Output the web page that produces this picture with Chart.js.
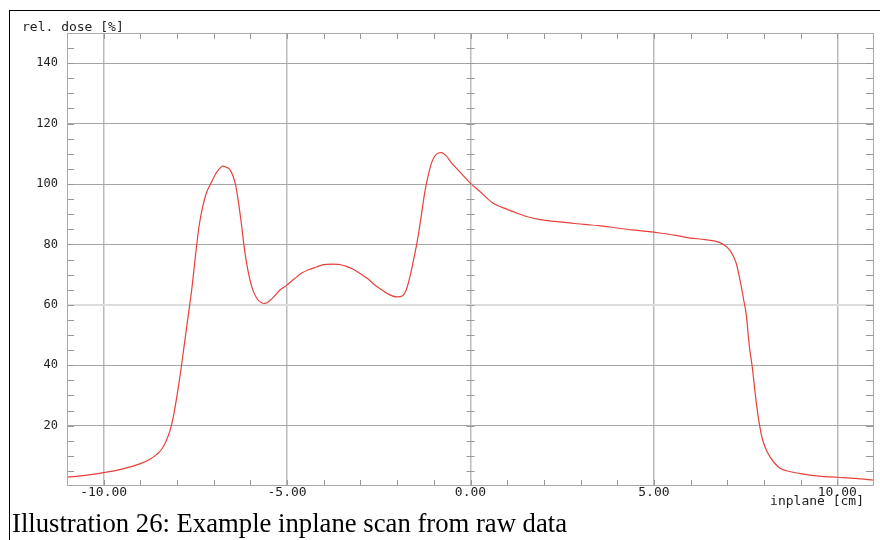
<!DOCTYPE html>
<html>
<head>
<meta charset="utf-8">
<script src="https://cdn.jsdelivr.net/npm/chart.js@4.4.1/dist/chart.umd.min.js"></script>
<style>
    html, body { margin: 0; padding: 0; background: #fff; }
    #page { position: relative; width: 880px; height: 540px; overflow: hidden; }
    #frame {
        position: absolute; left: 9px; top: 10px; width: 880px; height: 540px;
        border-left: 1.5px solid #000; border-top: 1.5px solid #000;
    }
    #chartBox { position: absolute; left: 0; top: 0; width: 880px; height: 540px; }
    #caption {
        position: absolute; left: 12px; top: 510px; margin: 0;
        font-family: "Liberation Serif", "Times New Roman", serif;
        font-size: 26.7px; line-height: 1; color: #000; white-space: nowrap;
    }
</style>
</head>
<body>
<div id="page">
    <div id="frame"></div>
    <div id="chartBox"><canvas id="scanChart"></canvas></div>
    <p id="caption">Illustration 26: Example inplane scan from raw data</p>
</div>
<script>
// position along the scan [cm]
const positions = [
    -11.0, -10.5, -10.0, -9.5, -9.0, -8.75, -8.56, -8.4, -8.3, -8.2, -8.1, -8.0, -7.9, -7.8,
    -7.7, -7.6, -7.5, -7.4, -7.3, -7.2, -7.07, -6.95, -6.85, -6.75, -6.65, -6.57, -6.48,
    -6.4, -6.32, -6.25, -6.16, -6.07, -5.95, -5.82, -5.7, -5.6, -5.5, -5.35, -5.2, -5.0,
    -4.8, -4.6, -4.4, -4.2, -4.0, -3.8, -3.6, -3.4, -3.2, -3.0, -2.8, -2.6, -2.4, -2.2,
    -2.0, -1.85, -1.75, -1.65, -1.55, -1.45, -1.35, -1.25, -1.15, -1.05, -0.93, -0.8,
    -0.66, -0.53, -0.4, -0.2, 0.0, 0.25, 0.6, 1.0, 1.35, 1.6, 1.9, 2.3, 2.7, 3.1, 3.5,
    3.9, 4.4, 4.8, 5.2, 5.6, 6.0, 6.4, 6.8, 7.0, 7.15, 7.25, 7.35, 7.45, 7.52, 7.6, 7.68,
    7.78, 7.87, 7.96, 8.1, 8.28, 8.45, 8.7, 9.0, 9.5, 10.0, 10.5, 11.0
];

// relative dose [%]
const doses = [
    2.9, 3.5, 4.4, 5.6, 7.4, 8.8, 10.4, 12.5, 14.8, 18.0, 23.0, 30.0, 38.0, 47.0,
    56.0, 65.0, 76.0, 86.0, 92.5, 97.0, 100.4, 103.3, 105.0, 105.9, 105.5, 104.9, 102.8,
    99.5, 93.5, 87.2, 78.2, 71.6, 65.5, 62.0, 60.7, 60.5, 61.1, 62.8, 64.8, 66.6,
    68.6, 70.5, 71.7, 72.5, 73.3, 73.5, 73.4, 72.8, 71.8, 70.3, 68.6, 66.5, 64.8, 63.3,
    62.6, 63.0, 65.0, 69.3, 75.0, 81.2, 88.8, 97.0, 103.0, 107.4, 109.9, 110.4,
    109.3, 107.2, 105.4, 102.8, 100.2, 97.6, 93.8, 91.6, 90.0, 89.0, 88.2, 87.6, 87.1, 86.6, 86.2,
    85.6, 84.8, 84.3, 83.7, 83.0, 82.1, 81.6, 80.6, 79.0, 76.5, 73.5, 68.0, 61.5, 56.5, 46.5, 39.5,
    28.7, 20.9, 15.4, 11.0, 7.7, 5.8, 4.8, 4.1, 3.3, 2.9, 2.5, 1.9
];

const xLabelEvery = 5;   // cm
const yLabelEvery = 20;  // %
const yTitle = "rel. dose [%]";
const xTitle = "inplane [cm]";

const monoFont = "'DejaVu Sans Mono', monospace";

// kotak plot + tick kecil di dalam area
const frameTicks = {
    id: "frameTicks",
    afterDatasetsDraw(chart) {
        const ctx = chart.ctx;
        const area = chart.chartArea;
        const xs = chart.scales.x;
        const ys = chart.scales.y;
        const x0 = xs.getPixelForValue(0);

        ctx.save();
        ctx.strokeStyle = "#999";
        ctx.lineWidth = 1;
        ctx.beginPath();
        ys.ticks.forEach((t) => {
            if (t.value <= ys.min || t.value >= ys.max) return;
            const py = Math.round(ys.getPixelForValue(t.value)) + 0.5;
            ctx.moveTo(area.left, py);
            ctx.lineTo(area.left + 7, py);
            ctx.moveTo(area.right - 8, py);
            ctx.lineTo(area.right, py);
            ctx.moveTo(x0 - 4, py);
            ctx.lineTo(x0 + 4, py);
        });
        xs.ticks.forEach((t) => {
            if (t.value <= xs.min || t.value >= xs.max) return;
            const px = Math.round(xs.getPixelForValue(t.value)) + 0.5;
            ctx.moveTo(px, area.top);
            ctx.lineTo(px, area.top + 6);
            ctx.moveTo(px, area.bottom - 6);
            ctx.lineTo(px, area.bottom);
        });
        ctx.stroke();

        ctx.strokeStyle = "#aaa";
        ctx.strokeRect(area.left + 0.5, area.top + 0.5, area.width - 1, area.height - 1);

        // judul sumbu
        ctx.fillStyle = "#222";
        ctx.font = "13px " + monoFont;
        ctx.textBaseline = "alphabetic";
        ctx.textAlign = "left";
        ctx.fillText(yTitle, 22, 31);
        ctx.textAlign = "right";
        ctx.fillText(xTitle, 864, 505);
        ctx.restore();
    },
};

document.addEventListener("DOMContentLoaded", function () {
    const canvas = document.getElementById("scanChart");
    const points = positions.map((p, i) => ({ x: p, y: doses[i] }));

    new Chart(canvas.getContext("2d"), {
        type: "line",
        data: {
            datasets: [
                {
                    label: "dose",
                    data: points,
                    borderColor: "#e8403a",
                    borderWidth: 1.2,
                    pointRadius: 0,
                    fill: false,
                    cubicInterpolationMode: "monotone",
                },
            ],
        },
        options: {
            responsive: true,
            maintainAspectRatio: false,
            animation: false,
            layout: { padding: { left: 10, top: 33, right: 6, bottom: 0 } },
            plugins: {
                legend: { display: false },
                tooltip: { enabled: false },
            },
            scales: {
                x: {
                    type: "linear",
                    min: -11,
                    max: 11,
                    border: { display: false },
                    afterFit: (scale) => { scale.height = 54; },
                    grid: {
                        drawTicks: false,
                        color: (c) => (c.tick && c.tick.value % xLabelEvery === 0 ? "#bbb" : "rgba(0,0,0,0)"),
                        lineWidth: 1.5,
                    },
                    ticks: {
                        stepSize: 1,
                        autoSkip: false,
                        maxRotation: 0,
                        padding: -1,
                        color: "#222",
                        font: { family: monoFont, size: 13 },
                        callback: (v) => (v % xLabelEvery === 0 ? v.toFixed(2) : ""),
                    },
                },
                y: {
                    min: 0,
                    max: 150,
                    border: { display: false },
                    afterFit: (scale) => { scale.width = 57; },
                    grid: {
                        drawTicks: false,
                        color: (c) => {
                            const v = c.tick ? c.tick.value : 0;
                            if (v === 60) return "#ddd";
                            if (v > 0 && v < 150 && v % yLabelEvery === 0) return "#a6a6a6";
                            return "rgba(0,0,0,0)";
                        },
                        lineWidth: (c) => (c.tick && c.tick.value === 60 ? 2 : 1),
                    },
                    ticks: {
                        stepSize: 5,
                        autoSkip: false,
                        padding: 9,
                        color: "#222",
                        font: { family: monoFont, size: 12 },
                        callback: (v) => (v > 0 && v % yLabelEvery === 0 ? String(v) : ""),
                    },
                },
            },
        },
        plugins: [frameTicks],
    });
});
</script>
</body>
</html>
